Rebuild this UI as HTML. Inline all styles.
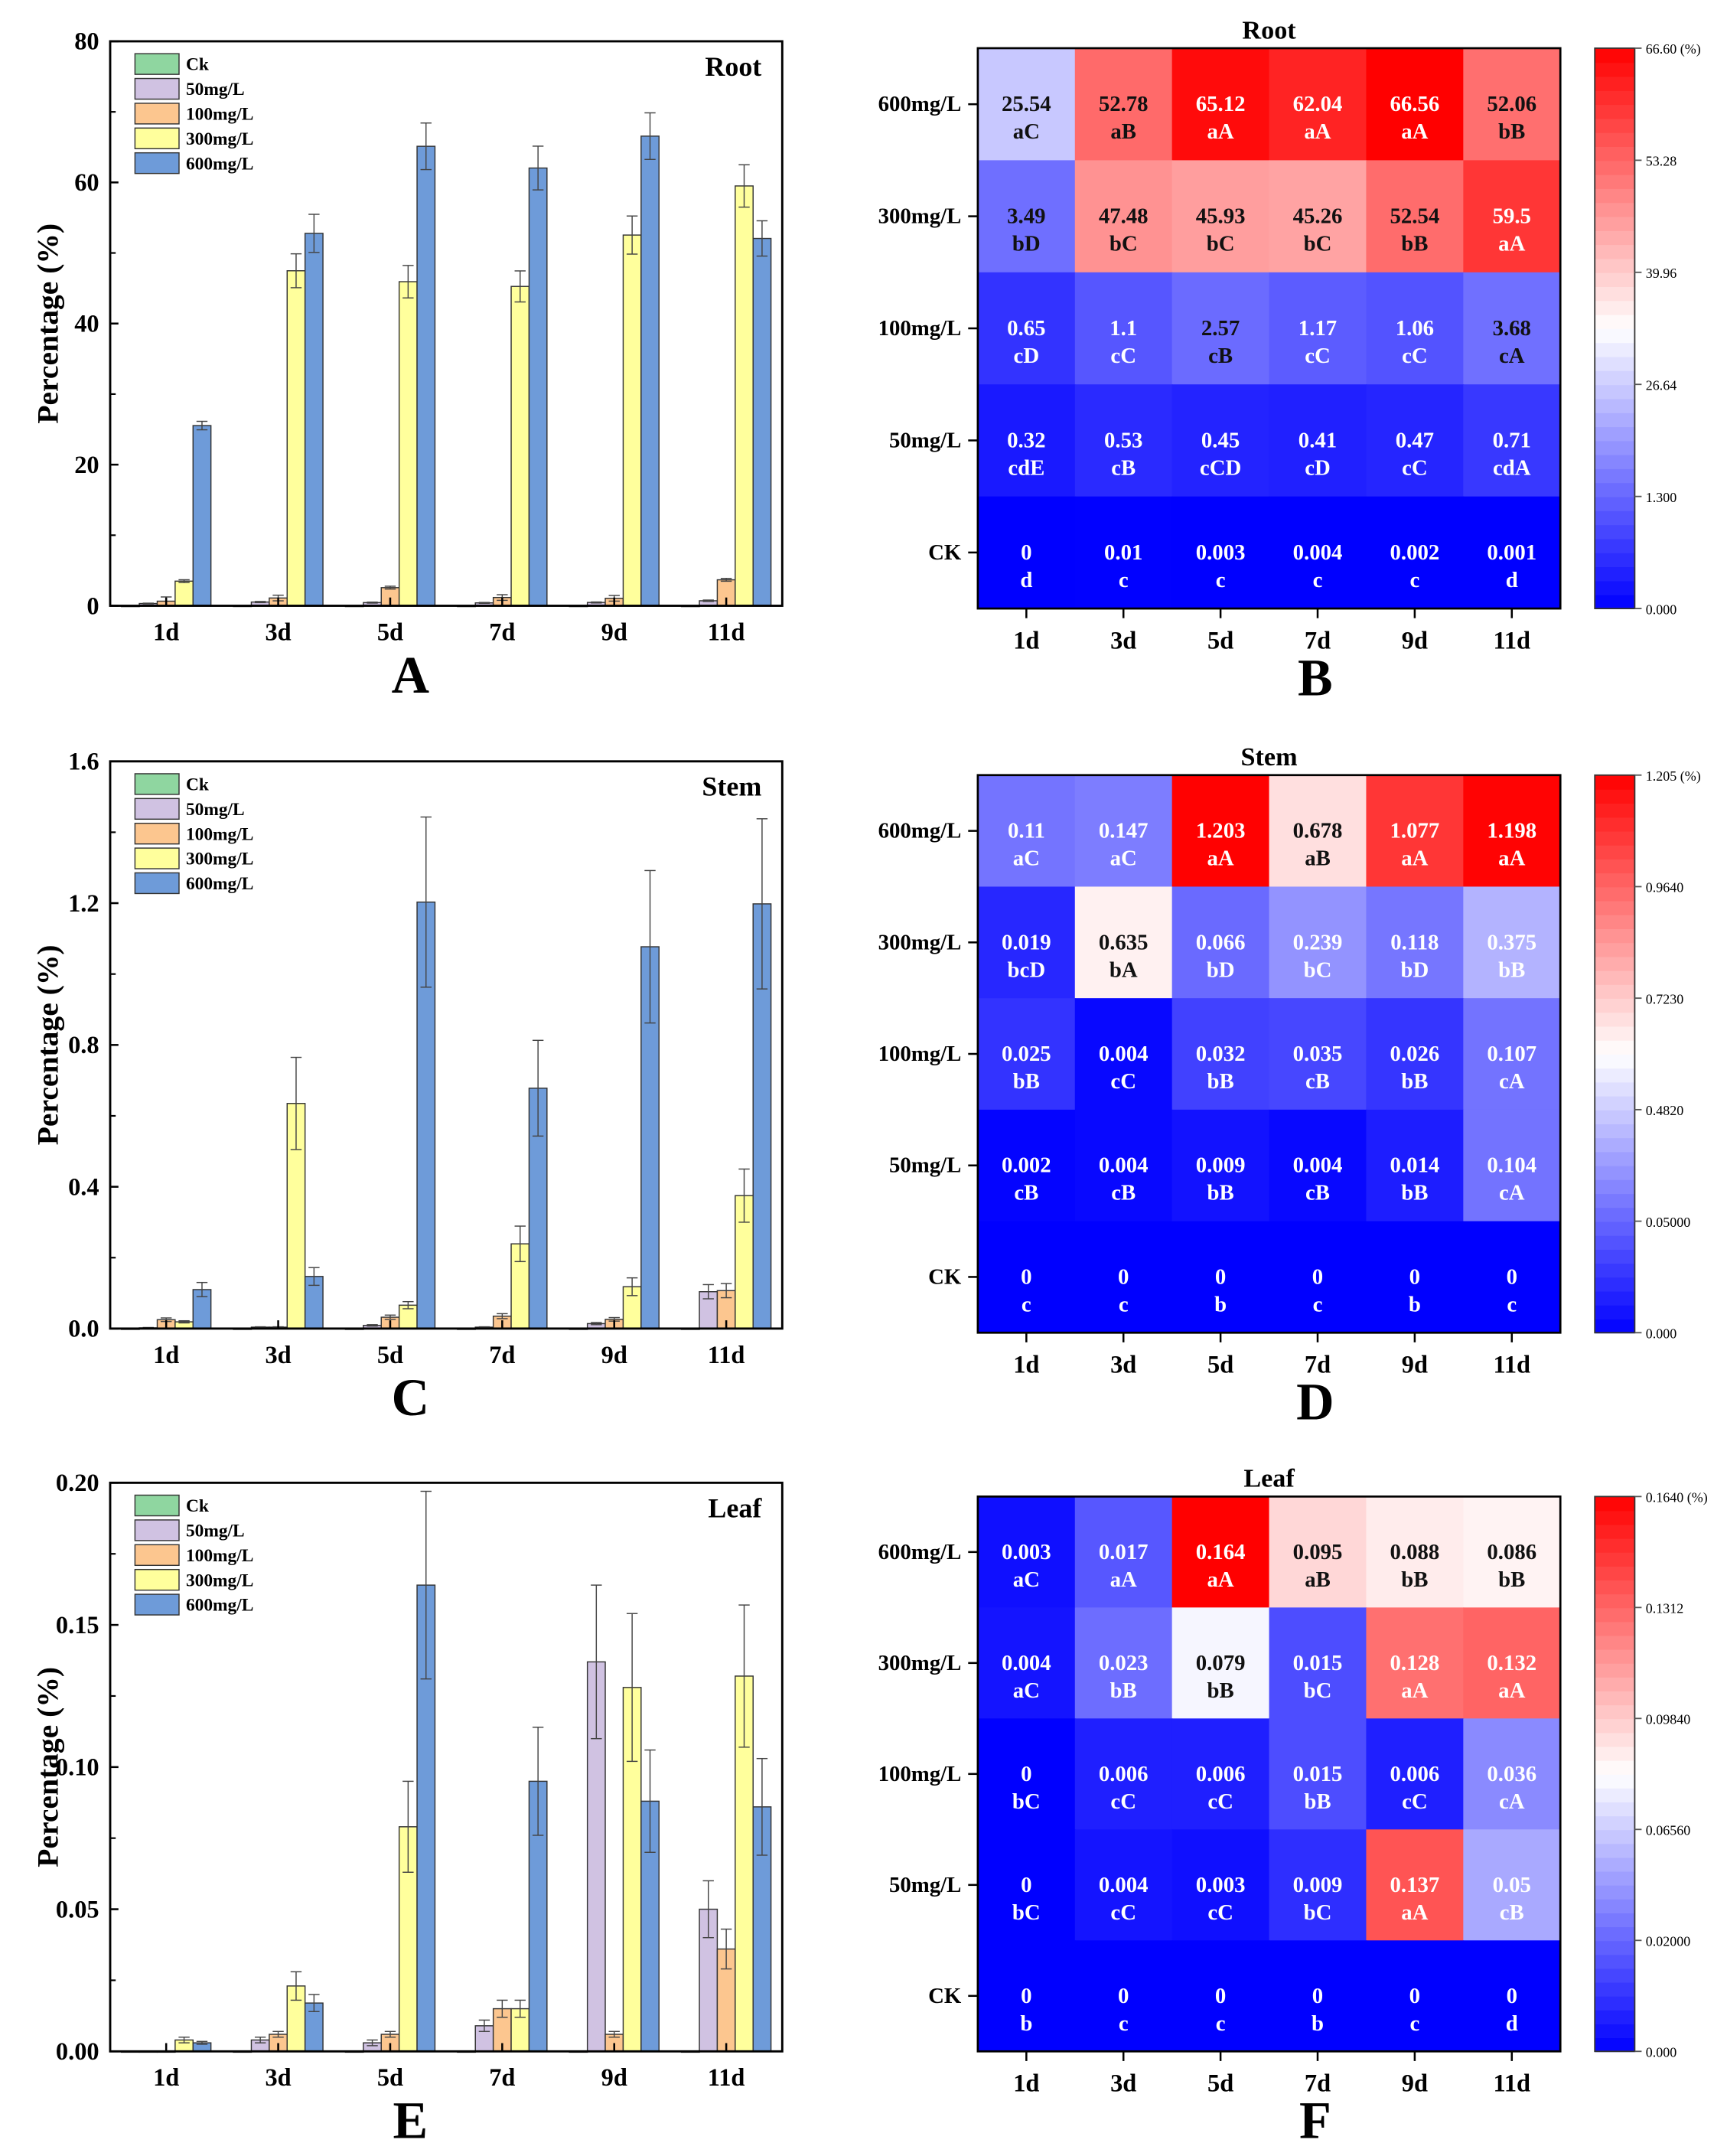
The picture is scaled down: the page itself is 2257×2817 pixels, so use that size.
<!DOCTYPE html>
<html><head><meta charset="utf-8"><style>
html,body{margin:0;padding:0;background:#fff}
svg{display:block;font-family:"Liberation Serif",serif;font-weight:bold}
</style></head><body>
<svg id="fig" width="2257" height="2817" viewBox="0 0 1254 1566" preserveAspectRatio="none" xmlns="http://www.w3.org/2000/svg"></svg>
<script>
const days = ["1d","3d","5d","7d","9d","11d"];
const seriesNames = ["Ck","50mg/L","100mg/L","300mg/L","600mg/L"];
const rowNames = ["600mg/L","300mg/L","100mg/L","50mg/L","CK"];
// Root
const rootCk = [0,0.01,0.003,0.004,0.002,0.001];
const root50 = [0.32,0.53,0.45,0.41,0.47,0.71];
const root100 = [0.65,1.1,2.57,1.17,1.06,3.68];
const root300 = [3.49,47.48,45.93,45.26,52.54,59.5];
const root600 = [25.54,52.78,65.12,62.04,66.56,52.06];
const rootErr50 = [0.05,0.08,0.07,0.06,0.07,0.1];
const rootErr100 = [0.6,0.4,0.2,0.4,0.4,0.2];
const rootErr300 = [0.2,2.4,2.3,2.2,2.7,3.0];
const rootErr600 = [0.6,2.7,3.3,3.1,3.3,2.5];
const rootLetters = [["aC","aB","aA","aA","aA","bB"],["bD","bC","bC","bC","bB","aA"],["cD","cC","cB","cC","cC","cA"],["cdE","cB","cCD","cD","cC","cdA"],["d","c","c","c","c","d"]];
const rootYTicks = [0,20,40,60,80];
const rootCbTicks = [0,1.3,26.64,39.96,53.28,66.6];
const rootCbLabels = ["0.000","1.300","26.64","39.96","53.28","66.60 (%)"];
// Stem
const stemCk = [0,0,0,0,0,0];
const stem50 = [0.002,0.004,0.009,0.004,0.014,0.104];
const stem100 = [0.025,0.004,0.032,0.035,0.026,0.107];
const stem300 = [0.019,0.635,0.066,0.239,0.118,0.375];
const stem600 = [0.11,0.147,1.203,0.678,1.077,1.198];
const stemErr50 = [0.001,0.001,0.002,0.001,0.003,0.02];
const stemErr100 = [0.005,0.001,0.006,0.007,0.005,0.02];
const stemErr300 = [0.003,0.13,0.01,0.05,0.025,0.075];
const stemErr600 = [0.02,0.025,0.24,0.135,0.215,0.24];
const stemLetters = [["aC","aC","aA","aB","aA","aA"],["bcD","bA","bD","bC","bD","bB"],["bB","cC","bB","cB","bB","cA"],["cB","cB","bB","cB","bB","cA"],["c","c","b","c","b","c"]];
const stemYTicks = [0,0.4,0.8,1.2,1.6];
const stemCbTicks = [0,0.05,0.482,0.723,0.964,1.205];
const stemCbLabels = ["0.000","0.05000","0.4820","0.7230","0.9640","1.205 (%)"];
// Leaf
const leafCk = [0,0,0,0,0,0];
const leaf50 = [0,0.004,0.003,0.009,0.137,0.05];
const leaf100 = [0,0.006,0.006,0.015,0.006,0.036];
const leaf300 = [0.004,0.023,0.079,0.015,0.128,0.132];
const leaf600 = [0.003,0.017,0.164,0.095,0.088,0.086];
const leafErr50 = [0,0.001,0.001,0.002,0.027,0.01];
const leafErr100 = [0,0.001,0.001,0.003,0.001,0.007];
const leafErr300 = [0.001,0.005,0.016,0.003,0.026,0.025];
const leafErr600 = [0.0005,0.003,0.033,0.019,0.018,0.017];
const leafLetters = [["aC","aA","aA","aB","bB","bB"],["aC","bB","bB","bC","aA","aA"],["bC","cC","cC","bB","cC","cA"],["bC","cC","cC","bC","aA","cB"],["b","c","c","b","c","d"]];
const leafYTicks = [0,0.05,0.10,0.15,0.20];
const leafCbTicks = [0,0.02,0.0656,0.0984,0.1312,0.164];
const leafCbLabels = ["0.000","0.02000","0.06560","0.09840","0.1312","0.1640 (%)"];

const NS="http://www.w3.org/2000/svg";
const svg=document.getElementById('fig');
function mk(tag,attrs,parent,txt){const e=document.createElementNS(NS,tag);for(const k in attrs)e.setAttribute(k,attrs[k]);if(txt!==undefined)e.textContent=txt;(parent||svg).appendChild(e);return e;}
const colors=["#8fd6a0","#d0c2e2","#fcc68f","#ffff9c","#6e9bd9"];

function barChart(key,title,letter,y0,y1,vals,errs,yTicks,fmt){
  const g=mk('g',{});
  
  
  const x0=80,x1=568,ymax=yTicks[yTicks.length-1];
  const ys=v=>y1-(v/ymax)*(y1-y0);
  const step=(x1-x0)/6, bw=13;
  const xc=i=>x0+step*(i+0.5);
  vals.forEach((arr,s)=>{arr.forEach((v,i)=>{
    const bx=xc(i)-2.5*bw+s*bw;
    const r=mk('rect',{x:bx,y:ys(v),width:bw,height:Math.max(0.6,y1-ys(v)),fill:colors[s],stroke:'#333','stroke-width':0.8},g);
    
    
    const e=errs[s]?errs[s][i]:0;
    if(e>0){const cx=bx+bw/2;
      mk('line',{x1:cx,x2:cx,y1:ys(v+e),y2:ys(Math.max(0,v-e)),stroke:'#444','stroke-width':0.8},g);
      mk('line',{x1:cx-4,x2:cx+4,y1:ys(v+e),y2:ys(v+e),stroke:'#444','stroke-width':0.8},g);
      mk('line',{x1:cx-4,x2:cx+4,y1:ys(Math.max(0,v-e)),y2:ys(Math.max(0,v-e)),stroke:'#444','stroke-width':0.8},g);}
  });});
  mk('rect',{x:x0,y:y0,width:x1-x0,height:y1-y0,fill:'none',stroke:'#000','stroke-width':1.6},g);
  yTicks.forEach((t,k)=>{const y=ys(t);
    mk('line',{x1:x0,x2:x0+6,y1:y,y2:y,stroke:'#000','stroke-width':1.4},g);
    const tl=mk('text',{x:x0-8,y:y+6,'text-anchor':'end','font-size':18},g,fmt(t));
    
    if(k<yTicks.length-1){const ym=ys((t+yTicks[k+1])/2);mk('line',{x1:x0,x2:x0+4,y1:ym,y2:ym,stroke:'#000','stroke-width':1.2},g);}
  });
  days.forEach((d,i)=>{mk('line',{x1:xc(i),x2:xc(i),y1:y1,y2:y1-6,stroke:'#000','stroke-width':1.4},g);
    const t=mk('text',{x:xc(i),y:y1+25,'text-anchor':'middle','font-size':18},g,d);
    });
  const yt=mk('text',{x:0,y:0,'text-anchor':'middle','font-size':22,transform:`translate(42,${(y0+y1)/2}) rotate(-90)`},g,'Percentage (%)');
  
  const tt=mk('text',{x:553,y:y0+25,'text-anchor':'end','font-size':20},g,title);
  
  seriesNames.forEach((n,s)=>{const ly=y0+9+s*18;
    const lr=mk('rect',{x:98,y:ly,width:32,height:15,fill:colors[s],stroke:'#333','stroke-width':0.8},g);
    
    const lt=mk('text',{x:135,y:ly+12,'font-size':13},g,n);
    });
  const pl=mk('text',{x:298,y:y1+63,'text-anchor':'middle','font-size':38},g,letter);
  
}

function colorFor(f){f=Math.max(0,Math.min(1,f));
  if(f<0.5){const w=Math.round(255*f/0.5);return `rgb(${w},${w},255)`;}
  const w=Math.round(255*(1-f)/0.5);return `rgb(255,${w},${w})`;}

function heatmap(key,title,letter,y0,y1,rows,letters,cbTicks,cbLabels,thr){
  const g=mk('g',{});
  
  
  const x0=710,x1=1133,cw=(x1-x0)/6,rh=(y1-y0)/5;
  const frac=v=>{for(let k=0;k<cbTicks.length-1;k++){if(v<=cbTicks[k+1])return (k+(v-cbTicks[k])/(cbTicks[k+1]-cbTicks[k]))/(cbTicks.length-1);}return 1;};
  rows.forEach((arr,r)=>{arr.forEach((v,c)=>{
    const f=frac(v);
    const cell=mk('rect',{x:x0+c*cw,y:y0+r*rh,width:cw+0.5,height:rh+0.5,fill:colorFor(f)},g);
    
    
    const tc=(f>thr[0]&&f<thr[1])?'#111':'#fff';
    const cx=x0+(c+0.5)*cw,cy=y0+(r+0.5)*rh;
    const vt=mk('text',{x:cx,y:cy+5,'text-anchor':'middle','font-size':16,fill:tc},g,String(v));
    
    const lt=mk('text',{x:cx,y:cy+25,'text-anchor':'middle','font-size':16,fill:tc},g,letters[r][c]);
    
  });});
  mk('rect',{x:x0,y:y0,width:x1-x0,height:y1-y0,fill:'none',stroke:'#000','stroke-width':1.5},g);
  rowNames.forEach((n,r)=>{const y=y0+(r+0.5)*rh;
    mk('line',{x1:x0-7,x2:x0,y1:y,y2:y,stroke:'#000','stroke-width':1.4},g);
    const t=mk('text',{x:x0-12,y:y+5,'text-anchor':'end','font-size':16},g,n);
    });
  days.forEach((d,c)=>{const x=x0+(c+0.5)*cw;
    mk('line',{x1:x,x2:x,y1:y1,y2:y1+7,stroke:'#000','stroke-width':1.4},g);
    const t=mk('text',{x:x,y:y1+29,'text-anchor':'middle','font-size':18},g,d);
    });
  const tt=mk('text',{x:(x0+x1)/2,y:y0-7,'text-anchor':'middle','font-size':19},g,title);
  
  const bx0=1158,bx1=1187,N=40;
  for(let k=0;k<N;k++){const f=(k+0.5)/N;
    mk('rect',{x:bx0,y:y1-(k+1)*(y1-y0)/N,width:bx1-bx0,height:(y1-y0)/N+0.5,fill:colorFor(f)},g);}
  const cb=mk('rect',{x:bx0,y:y0,width:bx1-bx0,height:y1-y0,fill:'none',stroke:'#333','stroke-width':1},g);
  
  cbLabels.forEach((l,k)=>{const y=y1-(k/(cbLabels.length-1))*(y1-y0);
    mk('line',{x1:bx1,x2:bx1+5,y1:y,y2:y,stroke:'#555','stroke-width':1},g);
    const t=mk('text',{x:bx1+8,y:y+4,'font-size':10,'font-weight':'normal'},g,l);
    });
  const pl=mk('text',{x:955,y:y1+63,'text-anchor':'middle','font-size':38},g,letter);
  
}

barChart('root','Root','A',30,440,[rootCk,root50,root100,root300,root600],[null,rootErr50,rootErr100,rootErr300,rootErr600],rootYTicks,t=>String(t));
barChart('stem','Stem','C',553,965,[stemCk,stem50,stem100,stem300,stem600],[null,stemErr50,stemErr100,stemErr300,stemErr600],stemYTicks,t=>t.toFixed(1));
barChart('leaf','Leaf','E',1077,1490,[leafCk,leaf50,leaf100,leaf300,leaf600],[null,leafErr50,leafErr100,leafErr300,leafErr600],leafYTicks,t=>t.toFixed(2));
heatmap('root','Root','B',35,442,[root600,root300,root100,root50,rootCk],rootLetters,rootCbTicks,rootCbLabels,[0.2,0.85]);
heatmap('stem','Stem','D',563,968,[stem600,stem300,stem100,stem50,stemCk],stemLetters,stemCbTicks,stemCbLabels,[0.4,0.85]);
heatmap('leaf','Leaf','F',1087,1490,[leaf600,leaf300,leaf100,leaf50,leafCk],leafLetters,leafCbTicks,leafCbLabels,[0.4,0.75]);
</script>
</body></html>
